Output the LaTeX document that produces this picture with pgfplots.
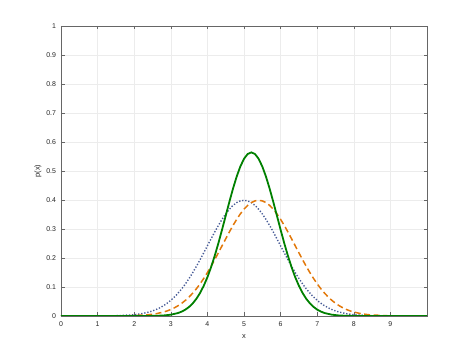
\documentclass[border=0pt]{standalone}
\usepackage{pgfplots}
\pgfplotsset{compat=1.18}
\usepackage{fontspec}
\setmainfont{Liberation Sans}
\definecolor{cblue}{RGB}{70,90,150}
\definecolor{corange}{RGB}{226,120,10}
\definecolor{cgreen}{RGB}{0,128,0}
\begin{document}
\begin{tikzpicture}
\path (0,0) rectangle (472bp,354bp);
\begin{axis}[
  at={(61bp,38bp)}, anchor=south west,
  scale only axis, width=366bp, height=290bp,
  xmin=0, xmax=10, ymin=0, ymax=1,
  xtick={0,1,...,9},
  ytick={0,0.1,...,1},
  yticklabels={0,0.1,0.2,0.3,0.4,0.5,0.6,0.7,0.8,0.9,1},
  grid=major,
  major grid style={draw=gray!15, line width=0.4pt},
  axis line style={draw=gray!80!black, line width=0.5pt},
  tick style={draw=gray!80!black, line width=0.4pt},
  tick align=inside,
  major tick length=3.5bp,
  ticklabel style={font=\fontsize{7}{8}\selectfont, text=black!85},
  xticklabel style={yshift=-2.5bp},
  yticklabel style={xshift=-1.5bp},
  /pgf/number format/assume math mode=true,
  xlabel={x}, ylabel={p(x)},
  label style={font=\fontsize{7.5}{9}\selectfont, text=black!85},
  xlabel style={yshift=-1bp},
  ylabel style={yshift=-2bp},
  clip=true,
]
% blue dotted N(5,1)
\addplot[cblue, line width=1.4pt, dash pattern=on 1.3pt off 1.8pt] coordinates {
(0,0) (1,0.0001) (1.5,0.0009) (2,0.0044) (2.2,0.0079) (2.4,0.0136) (2.5,0.0175)
(2.6,0.0224) (2.7,0.0283) (2.8,0.0355) (2.9,0.0440) (3.0,0.0540) (3.1,0.0656)
(3.2,0.0790) (3.3,0.0940) (3.4,0.1109) (3.5,0.1295) (3.6,0.1497) (3.7,0.1714)
(3.8,0.1942) (3.9,0.2179) (4.0,0.2420) (4.1,0.2661) (4.2,0.2897) (4.3,0.3123)
(4.4,0.3332) (4.5,0.3521) (4.6,0.3683) (4.7,0.3814) (4.8,0.3910) (4.9,0.3970)
(5.0,0.3989)
(5.1,0.3970) (5.2,0.3910) (5.3,0.3814) (5.4,0.3683) (5.5,0.3521) (5.6,0.3332)
(5.7,0.3123) (5.8,0.2897) (5.9,0.2661) (6.0,0.2420) (6.1,0.2179) (6.2,0.1942)
(6.3,0.1714) (6.4,0.1497) (6.5,0.1295) (6.6,0.1109) (6.7,0.0940) (6.8,0.0790)
(6.9,0.0656) (7.0,0.0540) (7.1,0.0440) (7.2,0.0355) (7.3,0.0283) (7.4,0.0224)
(7.5,0.0175) (7.6,0.0136) (7.8,0.0079) (8.0,0.0044) (8.5,0.0009) (9,0.0001) (10,0)
};
% orange dashed N(5.4,1)
\addplot[corange, line width=1.5pt, dash pattern=on 6pt off 3.5pt] coordinates {
(0,0) (1.4,0.0001) (1.9,0.0009) (2.4,0.0044) (2.6,0.0079) (2.8,0.0136) (2.9,0.0175)
(3.0,0.0224) (3.1,0.0283) (3.2,0.0355) (3.3,0.0440) (3.4,0.0540) (3.5,0.0656)
(3.6,0.0790) (3.7,0.0940) (3.8,0.1109) (3.9,0.1295) (4.0,0.1497) (4.1,0.1714)
(4.2,0.1942) (4.3,0.2179) (4.4,0.2420) (4.5,0.2661) (4.6,0.2897) (4.7,0.3123)
(4.8,0.3332) (4.9,0.3521) (5.0,0.3683) (5.1,0.3814) (5.2,0.3910) (5.3,0.3970)
(5.4,0.3989)
(5.5,0.3970) (5.6,0.3910) (5.7,0.3814) (5.8,0.3683) (5.9,0.3521) (6.0,0.3332)
(6.1,0.3123) (6.2,0.2897) (6.3,0.2661) (6.4,0.2420) (6.5,0.2179) (6.6,0.1942)
(6.7,0.1714) (6.8,0.1497) (6.9,0.1295) (7.0,0.1109) (7.1,0.0940) (7.2,0.0790)
(7.3,0.0656) (7.4,0.0540) (7.5,0.0440) (7.6,0.0355) (7.7,0.0283) (7.8,0.0224)
(7.9,0.0175) (8.0,0.0136) (8.2,0.0079) (8.4,0.0044) (8.9,0.0009) (9.4,0.0001) (10,0)
};
% green solid N(5.2,0.707)
\addplot[cgreen, line width=1.8pt] coordinates {
(0,0) (1.7,0) (2.2,0.0001) (2.4,0.0002) (2.6,0.0007) (2.8,0.0018) (3.0,0.0045)
(3.2,0.0103) (3.3,0.0153) (3.4,0.0221) (3.5,0.0314) (3.6,0.0436) (3.7,0.0595)
(3.8,0.0795) (3.9,0.1041) (4.0,0.1337) (4.1,0.1682) (4.2,0.2076) (4.3,0.2510)
(4.4,0.2975) (4.5,0.3456) (4.6,0.3936) (4.7,0.4394) (4.8,0.4808) (4.9,0.5156)
(5.0,0.5421) (5.1,0.5586) (5.2,0.5642) (5.3,0.5586) (5.4,0.5421) (5.5,0.5156)
(5.6,0.4808) (5.7,0.4394) (5.8,0.3936) (5.9,0.3456) (6.0,0.2975) (6.1,0.2510)
(6.2,0.2076) (6.3,0.1682) (6.4,0.1337) (6.5,0.1041) (6.6,0.0795) (6.7,0.0595)
(6.8,0.0436) (6.9,0.0314) (7.0,0.0221) (7.1,0.0153) (7.2,0.0103) (7.4,0.0045)
(7.6,0.0018) (7.8,0.0007) (8.0,0.0002) (8.2,0.0001) (8.7,0) (10,0)
};
\end{axis}
\end{tikzpicture}
\end{document}
